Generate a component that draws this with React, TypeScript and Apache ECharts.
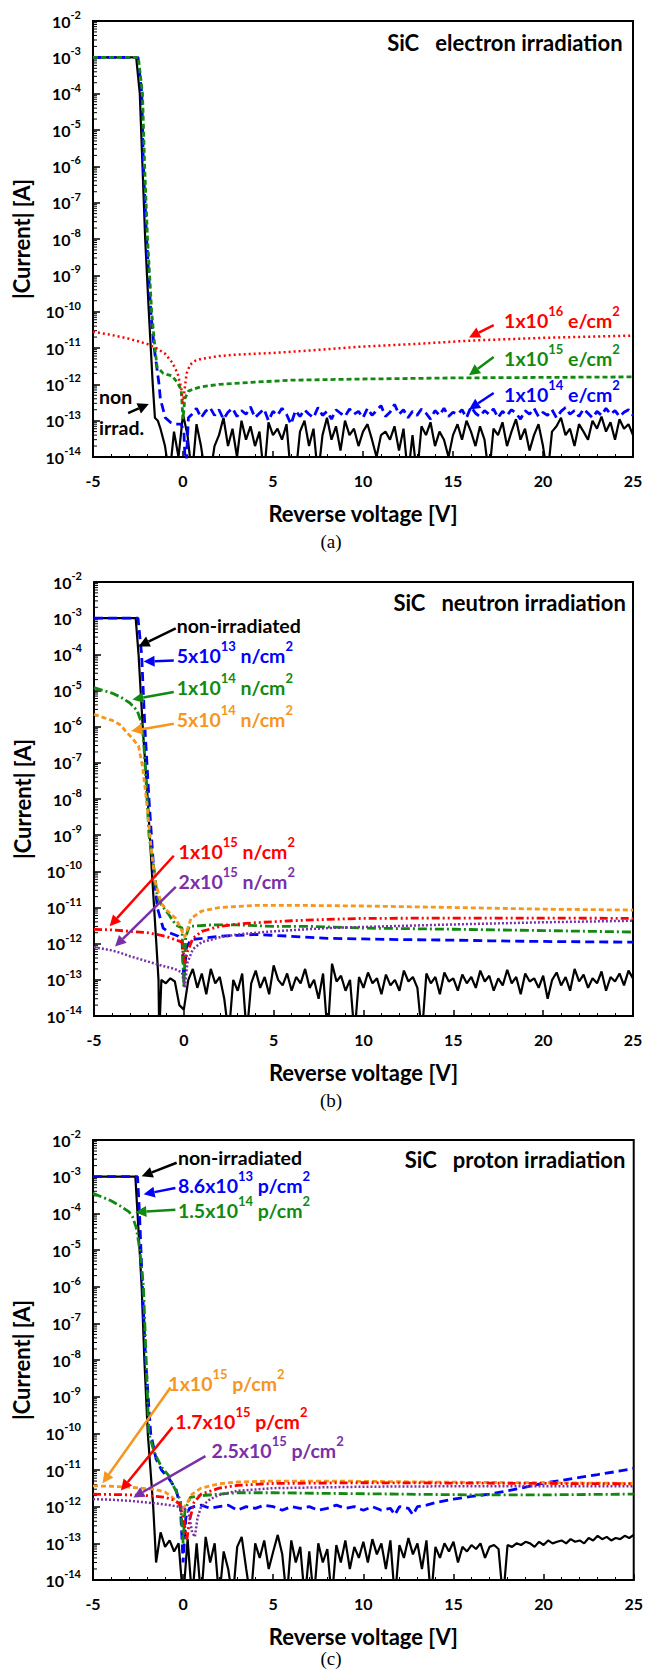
import React, { useEffect, useRef } from "react";
import * as echarts from "echarts";

// ---------- axes ----------
const X_MIN = -5;
const X_MAX = 25;
const X_INTERVAL = 5;
const Y_MIN_EXP = -14;
const Y_MAX_EXP = -2;
const NOISE_STEP = 0.25; // V, sampling step of the noisy measured traces

// ---------- colours ----------
const BLACK = "#000000";
const BLUE = "#0000ff";
const GREEN = "#128a12";
const RED = "#ff0000";
const ORANGE = "#f5961e";
const PURPLE = "#7a2fa6";

// ---------- (a) electron irradiation ----------
const aBlackCurve = [[-5, 1e-3], [-2.6, 1e-3], [-2.4, 1e-4], [-2.25, 1e-6], [-2.1, 1e-8], [-1.9, 1e-10], [-1.68, 1e-12], [-1.56, 1.2e-13], [-1.4, 1e-13]];
const aBlackNoiseX0 = -1.25;
const aBlackNoise = [6e-14, 2e-14, 3e-15, 5e-14, 1e-14, 1.5e-13, 4e-14, 3e-15, 8e-14, 2e-14, 3e-15, 3e-15, 2e-14, 4e-14, 1.2e-13, 2e-14, 6e-14, 1e-14, 1e-13, 3e-14, 7e-14, 2e-14, 5e-14, 3e-15, 9e-14, 4e-14, 6e-14, 3e-14, 8e-14, 3e-15, 3e-15, 5e-14, 1e-13, 2e-14, 6e-14, 3e-15, 4e-14, 1.2e-13, 3e-14, 7e-14, 1.5e-14, 1e-13, 4e-14, 6e-14, 2e-14, 5e-14, 8e-14, 3e-14, 1e-14, 4e-14, 5e-14, 3e-14, 7e-14, 1.5e-14, 6e-14, 3e-15, 4e-14, 3e-15, 7e-14, 4e-14, 9e-14, 2e-14, 5e-14, 3e-14, 1e-14, 4e-14, 8e-14, 3e-14, 1e-13, 5e-14, 2e-14, 7e-14, 3e-14, 3e-15, 6e-14, 4e-14, 9e-14, 2e-14, 5e-14, 1.1e-13, 3e-14, 6e-14, 1.5e-14, 4e-14, 8e-14, 2e-14, 3e-15, 5e-14, 7e-14, 1.2e-13, 4e-14, 6e-14, 2e-14, 8e-14, 5e-14, 3e-14, 1e-13, 6e-14, 1.3e-13, 5e-14, 9e-14, 3e-14, 1.1e-13, 6e-14, 8e-14, 4e-14];
const aBlueCurve = [[-5, 1e-3], [-2.5, 1e-3], [-2.29, 1e-4], [-2.2, 1e-6], [-2.02, 1e-8], [-1.79, 1e-10], [-1.6, 1e-11], [-1.33, 1e-12], [-1.26, 4e-13], [-0.98, 1.2e-13], [-0.7, 9e-14], [-0.4, 8e-14], [-0.1, 8e-14], [0.05, 5e-14], [0.15, 3e-15], [0.3, 1.2e-13]];
const aBlueNoiseX0 = 0.5;
const aBlueNoise = [1.5e-13, 2.2e-13, 1.2e-13, 1.8e-13, 2.3e-13, 1.4e-13, 2e-13, 1.1e-13, 1.7e-13, 2.2e-13, 1.3e-13, 1.9e-13, 1.5e-13, 2.4e-13, 1.2e-13, 1.6e-13, 2.1e-13, 1e-13, 1.8e-13, 1.4e-13, 2.2e-13, 1.5e-13, 8e-14, 1.9e-13, 1.3e-13, 2e-13, 1.5e-13, 1.2e-13, 2.3e-13, 1.4e-13, 1.8e-13, 1.1e-13, 2e-13, 1.6e-13, 1.3e-13, 2.1e-13, 1.5e-13, 1.8e-13, 1.2e-13, 2.2e-13, 1.4e-13, 1.9e-13, 2.6e-13, 1.3e-13, 1.7e-13, 2.8e-13, 1.5e-13, 2e-13, 1.2e-13, 1.8e-13, 1.4e-13, 2.1e-13, 1.6e-13, 1.1e-13, 1.9e-13, 1.4e-13, 2.2e-13, 1.3e-13, 1.7e-13, 1.5e-13, 2e-13, 1.2e-13, 2.4e-13, 1.6e-13, 1.3e-13, 1.9e-13, 1.5e-13, 2.1e-13, 1.2e-13, 1.8e-13, 1.4e-13, 2e-13, 1.6e-13, 1.1e-13, 1.9e-13, 1.5e-13, 2.2e-13, 1.3e-13, 1.7e-13, 1.4e-13, 2e-13, 1.2e-13, 1.8e-13, 2.3e-13, 1.5e-13, 1.9e-13, 1.3e-13, 2.1e-13, 1.6e-13, 1.2e-13, 1.8e-13, 1.4e-13, 2.2e-13, 1.5e-13, 1.9e-13, 1.3e-13, 1.7e-13, 2e-13, 1.4e-13];
const aGreen = [[-5, 1e-3], [-2.48, 1e-3], [-2.25, 1e-4], [-2.13, 1e-6], [-1.97, 1e-8], [-1.74, 1e-10], [-1.56, 1e-11], [-1.44, 3e-12], [-1.1, 2e-12], [-0.6, 1.7e-12], [-0.3, 1.1e-12], [-0.1, 7e-13], [0, 1.1e-13], [0.1, 4e-13], [0.3, 6.5e-13], [0.6, 7.5e-13], [1, 8.5e-13], [2, 1e-12], [4, 1.15e-12], [6, 1.3e-12], [10, 1.4e-12], [15, 1.5e-12], [20, 1.55e-12], [25, 1.6e-12]];
const aRed = [[-5, 2.8e-11], [-4, 2.3e-11], [-3, 1.8e-11], [-2, 1.3e-11], [-1.5, 1e-11], [-1, 7e-12], [-0.6, 4e-12], [-0.3, 2e-12], [-0.1, 8e-13], [0, 3e-13], [0.1, 8e-13], [0.2, 2e-12], [0.4, 3.5e-12], [0.7, 4.5e-12], [1, 5e-12], [2, 6e-12], [3, 6.6e-12], [5, 7.3e-12], [7, 8.5e-12], [10, 1.1e-11], [13, 1.3e-11], [16, 1.6e-11], [20, 1.9e-11], [25, 2.2e-11]];

// ---------- (b) neutron irradiation ----------
const bBlackCurve = [[-5, 1e-3], [-2.68, 1e-3], [-2.52, 1e-4], [-2.29, 1e-6], [-2.01, 1e-8], [-1.78, 1e-10], [-1.53, 1e-12], [-1.41, 1e-13], [-1.37, 3e-15]];
const bBlackNoiseX0 = -1.25;
const bBlackNoise = [1e-13, 8e-14, 1.1e-13, 9e-14, 2e-14, 1.5e-14, 1e-13, 2e-13, 6e-14, 1.5e-13, 4e-14, 2e-13, 8e-14, 1.2e-13, 3e-14, 3e-15, 1e-13, 5e-14, 1.5e-13, 3e-15, 8e-14, 1.8e-13, 6e-14, 1.2e-13, 4e-14, 2.5e-13, 1e-13, 7e-14, 1.5e-13, 5e-14, 1.2e-13, 8e-14, 2e-13, 6e-14, 1e-13, 3e-14, 1.5e-13, 3e-15, 2.8e-13, 9e-14, 1.3e-13, 5e-14, 1e-13, 3e-15, 1.2e-13, 6e-14, 1.6e-13, 8e-14, 1.1e-13, 4e-14, 1.4e-13, 7e-14, 1e-13, 5e-14, 1.8e-13, 9e-14, 1.2e-13, 6e-14, 3e-15, 1.5e-13, 8e-14, 1.2e-13, 4e-14, 1.6e-13, 9e-14, 1.1e-13, 5e-14, 1.4e-13, 8e-14, 1.2e-13, 6e-14, 1.8e-13, 9e-14, 1.3e-13, 5e-14, 1.1e-13, 7e-14, 1.9e-13, 8e-14, 1.2e-13, 4e-14, 1.5e-13, 9e-14, 1.1e-13, 6e-14, 1.3e-13, 3e-14, 1e-13, 1.6e-13, 7e-14, 1.2e-13, 5e-14, 2e-13, 9e-14, 1.4e-13, 6e-14, 1.1e-13, 8e-14, 1.7e-13, 5e-14, 1.2e-13, 9e-14, 1.5e-13, 7e-14, 1.8e-13, 1.1e-13];
const bBlue = [[-5, 1e-3], [-2.55, 1e-3], [-2.35, 1e-4], [-2.17, 1e-6], [-1.94, 1e-8], [-1.67, 1e-10], [-1.48, 1e-11], [-1.15, 2.7e-12], [-0.8, 2e-12], [-0.3, 1.6e-12], [-0.1, 1.2e-12], [0, 1e-13], [0.15, 8e-13], [0.4, 1.3e-12], [1, 1.4e-12], [2, 1.6e-12], [3, 1.7e-12], [4, 1.8e-12], [5, 1.7e-12], [6, 1.6e-12], [8, 1.4e-12], [10, 1.35e-12], [12, 1.3e-12], [15, 1.25e-12], [17, 1.2e-12], [20, 1.15e-12], [25, 1.1e-12]];
const bGreen = [[-5, 1.2e-5], [-4.5, 1e-5], [-4, 8.5e-6], [-3.5, 6.5e-6], [-3, 4.5e-6], [-2.6, 2.8e-6], [-2.4, 1.5e-6], [-2.25, 5e-7], [-2.1, 3e-8], [-1.94, 1e-9], [-1.64, 1e-10], [-1.48, 2e-11], [-1.25, 1.2e-11], [-0.8, 6e-12], [-0.45, 3.3e-12], [-0.1, 2.7e-12], [0, 6e-14], [0.1, 1.5e-12], [0.3, 3e-12], [1.5, 3.3e-12], [3, 3.3e-12], [5, 3e-12], [7, 3e-12], [10, 2.7e-12], [15, 2.5e-12], [20, 2.3e-12], [25, 2.1e-12]];
const bOrange = [[-5, 2.2e-6], [-4.5, 1.8e-6], [-4, 1.5e-6], [-3.5, 1.1e-6], [-3.2, 7e-7], [-2.9, 5e-7], [-2.52, 2.9e-7], [-2.29, 7.4e-8], [-2.06, 7.6e-9], [-1.83, 5e-10], [-1.6, 5.2e-11], [-1.25, 1.3e-11], [-0.91, 8e-12], [-0.45, 5e-12], [-0.22, 3e-12], [0.05, 1.5e-12], [0.4, 5e-12], [1, 8e-12], [2, 1e-11], [4, 1.15e-11], [6, 1.15e-11], [10, 1.1e-11], [15, 1e-11], [20, 9e-12], [25, 8.5e-12]];
const bRed = [[-5, 2.5e-12], [-4, 2.4e-12], [-3, 2.2e-12], [-2, 2e-12], [-1, 1.6e-12], [-0.5, 1.3e-12], [-0.1, 1.1e-12], [0.05, 3e-13], [0.2, 6e-13], [0.5, 1.4e-12], [1, 2.2e-12], [2, 3e-12], [3, 3.5e-12], [4, 3.8e-12], [6, 4.3e-12], [8, 4.7e-12], [10, 5e-12], [15, 5.1e-12], [20, 5.1e-12], [25, 5e-12]];
const bPurple = [[-5, 8e-13], [-4, 6.5e-13], [-3.5, 5.5e-13], [-3, 4.5e-13], [-2.5, 3.8e-13], [-2, 3.2e-13], [-1.5, 2.7e-13], [-1, 2.3e-13], [-0.5, 2e-13], [-0.1, 1.6e-13], [0.05, 6e-14], [0.2, 3e-13], [0.5, 7e-13], [1, 1.1e-12], [2, 1.5e-12], [3, 1.8e-12], [5, 2.2e-12], [8, 2.7e-12], [10, 2.9e-12], [15, 3.4e-12], [20, 3.9e-12], [25, 4.3e-12]];

// ---------- (c) proton irradiation ----------
const cBlackCurve = [[-5, 1e-3], [-2.65, 1e-3], [-2.53, 1e-4], [-2.3, 1e-6], [-2.15, 1e-8], [-1.96, 1e-10], [-1.66, 1e-12], [-1.57, 1.5e-13]];
const cBlackNoiseX0 = -1.5;
const cBlackNoise = [3e-14, 2e-13, 8e-14, 1.2e-13, 6e-14, 1e-13, 3e-15, 1.3e-13, 3e-15, 1e-13, 3e-15, 1.5e-13, 3e-14, 1e-13, 3e-15, 6e-14, 2e-14, 3e-15, 8e-14, 1.5e-13, 2e-14, 3e-15, 1e-13, 4e-14, 1.2e-13, 2e-14, 6e-14, 1.7e-13, 5e-14, 3e-15, 1.2e-13, 3e-14, 8e-14, 3e-15, 6e-14, 3e-15, 1e-13, 3e-14, 7e-14, 3e-15, 9e-14, 3e-14, 1.2e-13, 2e-14, 8e-14, 4e-14, 1.1e-13, 3e-14, 1.3e-13, 5e-14, 1e-13, 2e-14, 1.2e-13, 3e-15, 9e-14, 4e-14, 1.4e-13, 5e-14, 1e-13, 2e-14, 1.2e-13, 3e-15, 8e-14, 4e-14, 1e-13, 6e-14, 1.1e-13, 3e-14, 8e-14, 6e-14, 9e-14, 7e-14, 1e-13, 4e-14, 8e-14, 9e-14, 7e-14, 3e-15, 9e-14, 8e-14, 1e-13, 9e-14, 1.1e-13, 1e-13, 8e-14, 1.1e-13, 9e-14, 1.2e-13, 1e-13, 1.1e-13, 1.2e-13, 1e-13, 1.3e-13, 1.1e-13, 1.2e-13, 1e-13, 1.4e-13, 1.2e-13, 1.6e-13, 1.3e-13, 1.5e-13, 1.2e-13, 1.4e-13, 1.3e-13, 1.6e-13, 1.4e-13, 1.7e-13];
const cBlue = [[-5, 1e-3], [-2.53, 1e-3], [-2.42, 1e-4], [-2.26, 1e-6], [-2.08, 1e-8], [-1.8, 1e-10], [-1.5, 2e-11], [-1.2, 1e-11], [-0.8, 6e-12], [-0.4, 3e-12], [-0.15, 1e-12], [0, 3e-14], [0.15, 5e-13], [0.35, 9e-13], [0.6, 1e-12], [1, 1.1e-12], [1.5, 9e-13], [2, 1e-12], [2.5, 1.1e-12], [3, 8e-13], [3.5, 1e-12], [4, 9e-13], [4.5, 1.1e-12], [5, 1e-12], [5.5, 8e-13], [6, 1e-12], [6.5, 9e-13], [7, 1e-12], [7.5, 8e-13], [8, 9e-13], [8.5, 1.1e-12], [9, 9e-13], [9.5, 1e-12], [10, 8e-13], [10.5, 1e-12], [11, 8e-13], [11.5, 9e-13], [11.75, 6e-13], [12, 1e-12], [12.5, 9e-13], [12.75, 6e-13], [13, 1e-12], [13.5, 1.1e-12], [14, 1.3e-12], [15, 1.6e-12], [16, 1.9e-12], [17, 2.2e-12], [18, 2.7e-12], [19, 3.4e-12], [20, 4.4e-12], [21, 5.2e-12], [22, 6.3e-12], [23, 7.5e-12], [24, 9e-12], [25, 1.1e-11]];
const cGreen = [[-5, 3.5e-4], [-4.5, 2.8e-4], [-4, 2.2e-4], [-3.5, 1.6e-4], [-3, 1.1e-4], [-2.8, 8e-5], [-2.6, 4e-5], [-2.4, 1e-5], [-2.2, 1e-6], [-2.05, 1e-8], [-1.9, 1e-10], [-1.6, 3e-11], [-1.2, 1.2e-11], [-0.8, 7e-12], [-0.45, 3e-12], [-0.15, 1.5e-12], [0, 1e-13], [0.1, 8e-13], [0.4, 1.8e-12], [1, 2e-12], [2, 2.2e-12], [3, 2.4e-12], [5, 2.4e-12], [8, 2.3e-12], [12, 2.2e-12], [16, 2.1e-12], [20, 2.1e-12], [25, 2.2e-12]];
const cOrange = [[-5, 3.7e-12], [-4, 3.6e-12], [-3, 3.4e-12], [-2, 3.1e-12], [-1.5, 2.9e-12], [-1, 2.5e-12], [-0.6, 1.8e-12], [-0.3, 1.3e-12], [0, 9e-13], [0.2, 1.2e-12], [0.5, 2.2e-12], [1, 3.2e-12], [2, 4.2e-12], [3, 4.7e-12], [5, 5e-12], [8, 5e-12], [12, 4.8e-12], [16, 4.6e-12], [20, 4.5e-12], [25, 4.3e-12]];
const cRed = [[-5, 2.2e-12], [-3, 2.1e-12], [-2, 2e-12], [-1, 1.8e-12], [-0.5, 1.5e-12], [-0.2, 1.2e-12], [0.05, 4e-13], [0.2, 1.2e-13], [0.35, 4e-13], [0.6, 1.3e-12], [1, 2.2e-12], [2, 3.2e-12], [3, 3.8e-12], [5, 4.3e-12], [10, 4.5e-12], [15, 4.4e-12], [20, 4.3e-12], [25, 4.2e-12]];
const cPurple = [[-5, 1.6e-12], [-4, 1.55e-12], [-3, 1.45e-12], [-2, 1.3e-12], [-1, 1.15e-12], [-0.5, 1.05e-12], [0, 9.5e-13], [0.3, 7e-13], [0.5, 2e-13], [0.65, 1.5e-13], [0.8, 5e-13], [1, 1e-12], [1.5, 1.6e-12], [2, 2.1e-12], [3, 2.7e-12], [5, 3.2e-12], [10, 3.5e-12], [15, 3.6e-12], [20, 3.6e-12], [25, 3.6e-12]];

// ---------- annotations (x in V, e = log10 of current) ----------
const titles = ["SiC   electron irradiation", "SiC   neutron irradiation", "SiC   proton irradiation"];
const titleAnchors = [[24.42, -2.59], [24.6, -2.57], [24.54, -2.52]];
const captions = ["(a)", "(b)", "(c)"];

type Part = [string, boolean];
type Label = { parts: Part[]; color: string; x: number; e: number };
type Arrow = { color: string; from: number[]; to: number[] };

const fl = (base: string, exp: string, unit: string): Part[] => [[base, false], [exp, true], [unit, false], ["2", true]];

const labelsA: Label[] = [
  { parts: fl("1x10", "16", " e/cm"), color: RED, x: 17.84, e: -10.25 },
  { parts: fl("1x10", "15", " e/cm"), color: GREEN, x: 17.84, e: -11.3 },
  { parts: fl("1x10", "14", " e/cm"), color: BLUE, x: 17.84, e: -12.29 },
  { parts: [["non", false]], color: BLACK, x: -4.66, e: -12.34 },
  { parts: [["irrad.", false]], color: BLACK, x: -4.66, e: -13.18 },
];
const arrowsA: Arrow[] = [
  { color: RED, from: [17.26, -10.37], to: [15.89, -10.71] },
  { color: GREEN, from: [17.26, -11.25], to: [15.89, -11.75] },
  { color: BLUE, from: [17.26, -12.24], to: [15.89, -12.69] },
  { color: BLACK, from: [-3.05, -12.79], to: [-1.9, -12.54] },
];
const labelsB: Label[] = [
  { parts: [["non-irradiated", false]], color: BLACK, x: -0.4, e: -3.21 },
  { parts: fl("5x10", "13", " n/cm"), color: BLUE, x: -0.4, e: -4.02 },
  { parts: fl("1x10", "14", " n/cm"), color: GREEN, x: -0.4, e: -4.91 },
  { parts: fl("5x10", "14", " n/cm"), color: ORANGE, x: -0.4, e: -5.8 },
  { parts: fl("1x10", "15", " n/cm"), color: RED, x: -0.29, e: -9.45 },
  { parts: fl("2x10", "15", " n/cm"), color: PURPLE, x: -0.29, e: -10.28 },
];
const arrowsB: Arrow[] = [
  { color: BLACK, from: [-0.45, -3.28], to: [-2.52, -3.78] },
  { color: BLUE, from: [-0.56, -4.17], to: [-2.24, -4.2] },
  { color: GREEN, from: [-0.56, -5.04], to: [-2.86, -5.25] },
  { color: ORANGE, from: [-0.56, -5.92], to: [-2.93, -6.12] },
  { color: RED, from: [-0.56, -9.57], to: [-4.13, -11.52] },
  { color: PURPLE, from: [-0.45, -10.43], to: [-3.83, -12.08] },
];
const labelsC: Label[] = [
  { parts: [["non-irradiated", false]], color: BLACK, x: -0.29, e: -2.49 },
  { parts: fl("8.6x10", "13", " p/cm"), color: BLUE, x: -0.29, e: -3.23 },
  { parts: fl("1.5x10", "14", " p/cm"), color: GREEN, x: -0.29, e: -3.92 },
  { parts: fl("1x10", "15", " p/cm"), color: ORANGE, x: -0.82, e: -8.65 },
  { parts: fl("1.7x10", "15", " p/cm"), color: RED, x: -0.43, e: -9.68 },
  { parts: fl("2.5x10", "15", " p/cm"), color: PURPLE, x: 1.58, e: -10.47 },
];
const arrowsC: Arrow[] = [
  { color: BLACK, from: [-0.36, -2.62], to: [-2.3, -2.99] },
  { color: BLUE, from: [-0.43, -3.31], to: [-2.19, -3.48] },
  { color: GREEN, from: [-0.43, -3.9], to: [-2.65, -3.97] },
  { color: ORANGE, from: [-0.7, -8.75], to: [-4.47, -11.36] },
  { color: RED, from: [-0.59, -9.83], to: [-3.45, -11.56] },
  { color: PURPLE, from: [1.24, -10.62], to: [-2.76, -11.75] },
];

// ---------- layout ----------
const FONT = "Lato, 'Open Sans', sans-serif";
const PANELS = [
  { left: 93, top: 21, width: 540, height: 436, caption: 541 },
  { left: 94, top: 582, width: 539, height: 434, caption: 1100 },
  { left: 93, top: 1140, width: 543, height: 440, caption: 1658 },
];

const DASH_LONG = [9, 5];
const DASH_SHORT = [5, 3];
const DOT = [2, 3];
const DASH_DOT = [9, 3, 2, 3];
const DASH_DOT_DOT = [8, 3, 2, 3, 2, 3];
const DOT_FINE = [2, 2];

const sampled = (x0: number, ys: number[]) => ys.map((y, i) => [x0 + i * NOISE_STEP, y]);

function lineSeries(gi: number, data: number[][], color: string, dash: any, width = 2.2) {
  return {
    type: "line",
    xAxisIndex: gi,
    yAxisIndex: gi * 2 + 1,
    data,
    symbol: "none",
    showSymbol: false,
    clip: true,
    silent: true,
    lineStyle: { color, width, type: dash },
    emphasis: { disabled: true },
  };
}

const minorTickValues: number[] = [];
for (let e = Y_MIN_EXP; e < Y_MAX_EXP; e++) {
  for (let k = 2; k <= 9; k++) minorTickValues.push(k * Math.pow(10, e));
}

function minorTicks(gi: number) {
  return {
    type: "custom",
    xAxisIndex: gi,
    yAxisIndex: gi * 2 + 1,
    silent: true,
    clip: false,
    data: minorTickValues.map((v) => [X_MIN, v]),
    renderItem: (_p: any, api: any) => {
      const pt = api.coord([api.value(0), api.value(1)]);
      return {
        type: "line",
        shape: { x1: pt[0], y1: pt[1], x2: pt[0] + 4, y2: pt[1] },
        style: { stroke: "#000", lineWidth: 1 },
      };
    },
  };
}

function richText(parts: Part[]) {
  return parts.map(([t, sup]) => `{${sup ? "s" : "m"}|${t}}`).join("");
}

export default function App() {
  const ref = useRef<HTMLDivElement>(null);
  useEffect(() => {
    if (!ref.current) return;
    const chart = echarts.init(ref.current, null, { renderer: "svg" });

    const grids = PANELS.map((p) => ({
      left: p.left, top: p.top, width: p.width, height: p.height,
      show: true, borderColor: "#000", borderWidth: 2, backgroundColor: "transparent",
      containLabel: false,
    }));

    const xAxes = PANELS.map((_, gi) => ({
      type: "value", gridIndex: gi, min: X_MIN, max: X_MAX, interval: X_INTERVAL,
      axisLine: { show: true, onZero: false, lineStyle: { color: "#000", width: 2 } },
      axisTick: { show: true, inside: true, length: 6, lineStyle: { color: "#000", width: 1.5 } },
      minorTick: { show: true, splitNumber: 5, length: 3, lineStyle: { color: "#000", width: 1 } },
      splitLine: { show: false },
      axisLabel: { margin: 15, fontSize: 16, fontWeight: "bold", color: "#000", fontFamily: FONT },
      name: "Reverse voltage [V]", nameLocation: "middle", nameGap: 45,
      nameTextStyle: { fontSize: 22, fontWeight: "bold", color: "#000", fontFamily: FONT },
    }));

    const yAxes: any[] = [];
    PANELS.forEach((_, gi) => {
      yAxes.push({
        type: "value", gridIndex: gi, min: Y_MIN_EXP, max: Y_MAX_EXP, interval: 1, position: "left",
        axisLine: { show: true, onZero: false, lineStyle: { color: "#000", width: 2 } },
        axisTick: { show: true, inside: true, length: 7, lineStyle: { color: "#000", width: 1.5 } },
        splitLine: { show: false },
        axisLabel: {
          margin: 12,
          formatter: (v: number) => `{b|10}{s|${v}}`,
          rich: {
            b: { fontSize: 16, fontWeight: "bold", color: "#000", fontFamily: FONT, lineHeight: 24 },
            s: { fontSize: 11, fontWeight: "bold", color: "#000", fontFamily: FONT, verticalAlign: "top" },
          },
        },
        name: "|Current| [A]", nameLocation: "middle", nameGap: 61,
        nameTextStyle: { fontSize: 22, fontWeight: "bold", color: "#000", fontFamily: FONT },
      });
      yAxes.push({
        type: "log", logBase: 10, gridIndex: gi, min: Math.pow(10, Y_MIN_EXP), max: Math.pow(10, Y_MAX_EXP),
        show: false, splitLine: { show: false },
      });
    });

    const series: any[] = [
      // (a)
      minorTicks(0),
      lineSeries(0, aBlackCurve.concat(sampled(aBlackNoiseX0, aBlackNoise)), BLACK, "solid", 2.2),
      lineSeries(0, aBlueCurve.concat(sampled(aBlueNoiseX0, aBlueNoise)), BLUE, DASH_LONG, 2.8),
      lineSeries(0, aGreen, GREEN, DASH_SHORT, 2.8),
      lineSeries(0, aRed, RED, DOT, 2.5),
      // (b)
      minorTicks(1),
      lineSeries(1, bBlackCurve.concat(sampled(bBlackNoiseX0, bBlackNoise)), BLACK, "solid", 2.2),
      lineSeries(1, bBlue, BLUE, DASH_LONG, 2.8),
      lineSeries(1, bGreen, GREEN, DASH_DOT, 2.8),
      lineSeries(1, bOrange, ORANGE, DASH_SHORT, 2.8),
      lineSeries(1, bRed, RED, DASH_DOT_DOT, 2.8),
      lineSeries(1, bPurple, PURPLE, DOT_FINE, 2.5),
      // (c)
      minorTicks(2),
      lineSeries(2, cBlackCurve.concat(sampled(cBlackNoiseX0, cBlackNoise)), BLACK, "solid", 2.2),
      lineSeries(2, cBlue, BLUE, DASH_LONG, 2.8),
      lineSeries(2, cGreen, GREEN, DASH_DOT, 2.8),
      lineSeries(2, cOrange, ORANGE, DASH_SHORT, 2.8),
      lineSeries(2, cRed, RED, DASH_DOT_DOT, 2.8),
      lineSeries(2, cPurple, PURPLE, DOT_FINE, 2.5),
    ];

    chart.setOption({
      animation: false,
      backgroundColor: "#fff",
      grid: grids,
      xAxis: xAxes,
      yAxis: yAxes,
      series,
    });

    const g: any[] = [];
    const allLabels = [labelsA, labelsB, labelsC];
    const allArrows = [arrowsA, arrowsB, arrowsC];
    PANELS.forEach((p, gi) => {
      const finder = { xAxisIndex: gi, yAxisIndex: gi * 2 + 1 };
      const px = (x: number, e: number) => chart.convertToPixel(finder as any, [x, Math.pow(10, e)]) as number[];

      const t = px(titleAnchors[gi][0], titleAnchors[gi][1]);
      g.push({
        type: "text", x: t[0], y: t[1], z: 100, silent: true,
        style: { text: titles[gi], fill: "#000", font: `bold 22px ${FONT}`, align: "right", verticalAlign: "middle" },
      });

      allLabels[gi].forEach((l) => {
        const q = px(l.x, l.e);
        g.push({
          type: "text", x: q[0], y: q[1], z: 100, silent: true,
          style: {
            text: richText(l.parts),
            align: "left", verticalAlign: "middle",
            rich: {
              m: { fontSize: 19.5, fontWeight: "bold", fontFamily: FONT, fill: l.color, lineHeight: 32 },
              s: { fontSize: 13, fontWeight: "bold", fontFamily: FONT, fill: l.color, verticalAlign: "top" },
            },
          },
        });
      });

      allArrows[gi].forEach((a) => {
        const [x1, y1] = px(a.from[0], a.from[1]);
        const [x2, y2] = px(a.to[0], a.to[1]);
        const dx = x2 - x1, dy = y2 - y1;
        const L = Math.hypot(dx, dy) || 1;
        const ux = dx / L, uy = dy / L;
        const hl = 11, hw = 5.5;
        const bx = x2 - ux * hl, by = y2 - uy * hl;
        g.push({ type: "line", z: 100, silent: true, shape: { x1, y1, x2: bx, y2: by }, style: { stroke: a.color, lineWidth: 2.5 } });
        g.push({
          type: "polygon", z: 100, silent: true,
          shape: { points: [[x2, y2], [bx - uy * hw, by + ux * hw], [bx + uy * hw, by - ux * hw]] },
          style: { fill: a.color },
        });
      });

      g.push({
        type: "text", x: 331, y: p.caption, z: 100, silent: true,
        style: { text: captions[gi], fill: "#000", font: "19px 'Liberation Serif', 'DejaVu Serif', serif", align: "center", verticalAlign: "middle" },
      });
    });

    chart.setOption({ graphic: g });

    return () => chart.dispose();
  }, []);

  return <div ref={ref} style={{ position: "absolute", left: 0, top: 0, width: 646, height: 1670, background: "#fff" }} />;
}
